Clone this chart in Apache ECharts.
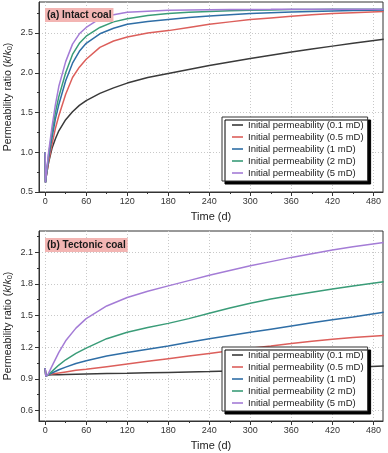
<!DOCTYPE html>
<html>
<head>
<meta charset="utf-8">
<script src="https://cdn.jsdelivr.net/npm/echarts@6/dist/echarts.min.js"></script>
<style>html,body{margin:0;padding:0;background:#fff}#c{width:388px;height:453px}</style>
</head>
<body>
<div id="c"></div>
<script>
// ---- data ----
const seriesNames = ['Initial permeability (0.1 mD)','Initial permeability (0.5 mD)','Initial permeability (1 mD)','Initial permeability (2 mD)','Initial permeability (5 mD)'];
const timeA = [0,0.5,2,5,10,15,20,30,40,50,60,80,100,120,150,180,210,240,270,300,330,360,390,420,450,495];
const intact01 = [1.0,0.62,0.72,0.87,1.05,1.17,1.27,1.41,1.51,1.59,1.65,1.74,1.81,1.87,1.94,1.99,2.04,2.09,2.135,2.18,2.22,2.26,2.30,2.335,2.37,2.42];
const intact05 = [1.0,0.62,0.72,0.88,1.10,1.30,1.46,1.73,1.94,2.07,2.17,2.32,2.40,2.45,2.50,2.53,2.57,2.61,2.64,2.67,2.69,2.71,2.73,2.745,2.755,2.77];
const intact1  = [1.0,0.62,0.73,0.93,1.18,1.42,1.60,1.90,2.12,2.27,2.37,2.49,2.56,2.61,2.645,2.67,2.695,2.715,2.73,2.745,2.755,2.765,2.772,2.778,2.783,2.79];
const intact2  = [1.0,0.62,0.74,0.97,1.25,1.50,1.70,2.00,2.23,2.37,2.46,2.57,2.64,2.68,2.72,2.745,2.76,2.77,2.78,2.785,2.79,2.795,2.795,2.80,2.80,2.80];
const intact5  = [1.0,0.62,0.75,1.00,1.32,1.60,1.83,2.14,2.36,2.49,2.57,2.68,2.73,2.76,2.775,2.785,2.79,2.793,2.795,2.797,2.798,2.80,2.80,2.80,2.80,2.80];

const timeB = [0,1,4,10,20,30,45,60,90,120,150,180,210,240,270,300,330,360,390,420,450,495];
const tect01 = [1.0,0.925,0.935,0.937,0.939,0.941,0.943,0.945,0.949,0.952,0.956,0.96,0.964,0.968,0.973,0.978,0.983,0.989,0.995,1.002,1.009,1.02];
const tect05 = [1.0,0.925,0.935,0.945,0.955,0.965,0.98,0.99,1.015,1.04,1.065,1.09,1.115,1.14,1.165,1.19,1.21,1.235,1.255,1.275,1.29,1.31];
const tect1  = [1.0,0.925,0.935,0.955,0.985,1.01,1.045,1.07,1.115,1.15,1.18,1.21,1.245,1.28,1.31,1.34,1.37,1.40,1.43,1.46,1.485,1.53];
const tect2  = [1.0,0.925,0.935,0.97,1.03,1.08,1.14,1.19,1.28,1.34,1.385,1.425,1.47,1.52,1.57,1.615,1.655,1.69,1.72,1.75,1.78,1.82];
const tect5  = [1.0,0.925,0.94,1.02,1.15,1.26,1.38,1.47,1.59,1.67,1.73,1.78,1.83,1.88,1.925,1.97,2.01,2.05,2.085,2.12,2.15,2.19];

const xTicks = [0,60,120,180,240,300,360,420,480];
const xMinor = [30,90,150,210,270,330,390,450];
const yTicksA = [0.5,1.0,1.5,2.0,2.5];
const yMinorA = [0.75,1.25,1.75,2.25,2.75];
const yTicksB = [0.6,0.9,1.2,1.5,1.8,2.1];
const yMinorB = [0.75,1.05,1.35,1.65,1.95,2.25];
const panelTitles = ['(a) Intact coal','(b) Tectonic coal'];

// ---- styling ----
const colors = ['#3a3a3a','#dc5f5b','#2f6ea6','#3a9c78','#a47cd6'];
const FONT = 'Liberation Sans, Arial, sans-serif';
const axisColor = '#333';

function xAxes(grid){
  const base = {type:'value', gridIndex:grid, min:-9, max:494, position:'bottom'};
  return [
    Object.assign({}, base, {
      name:'Time (d)', nameLocation:'middle', nameGap:19, nameMoveOverlap:false,
      nameTextStyle:{fontSize:11, color:'#222', fontFamily:FONT},
      axisLine:{onZero:false, lineStyle:{color:axisColor, width:1}},
      axisTick:{show:true, inside:false, length:4, customValues:xTicks, lineStyle:{color:axisColor}},
      axisLabel:{customValues:xTicks, fontSize:9, color:'#333', margin:5, fontFamily:FONT},
      splitLine:{show:true, lineStyle:{color:'#c8c8c8', type:[1,2], width:1}}
    }),
    Object.assign({}, base, {
      axisLine:{show:false, onZero:false},
      axisTick:{show:true, inside:false, length:2, customValues:xMinor, lineStyle:{color:axisColor}},
      axisLabel:{show:false},
      splitLine:{show:false}
    })
  ];
}
function yAxes(grid, min, max, ticks, minor){
  const base = {type:'value', gridIndex:grid, min:min, max:max, position:'left'};
  return [
    Object.assign({}, base, {
      name:'Permeability ratio ({i|k}/{i|k}{s|0})', nameLocation:'middle', nameGap:25, nameMoveOverlap:false,
      nameTextStyle:{fontSize:10.5, color:'#222', fontFamily:FONT,
        rich:{i:{fontStyle:'italic', fontSize:10.5, fontFamily:FONT, color:'#222'},
              s:{fontSize:7.5, fontFamily:FONT, color:'#222', verticalAlign:'bottom', padding:[4,0,0,0]}}},
      axisLine:{onZero:false, lineStyle:{color:axisColor, width:1}},
      axisTick:{show:true, inside:false, length:4, customValues:ticks, lineStyle:{color:axisColor}},
      axisLabel:{customValues:ticks, fontSize:9, color:'#333', margin:6, fontFamily:FONT,
        formatter:v=>v.toFixed(1)},
      splitLine:{show:true, lineStyle:{color:'#c8c8c8', type:[1,2], width:1}}
    }),
    Object.assign({}, base, {
      axisLine:{show:false, onZero:false},
      axisTick:{show:true, inside:false, length:2, customValues:minor, lineStyle:{color:axisColor}},
      axisLabel:{show:false},
      splitLine:{show:false}
    })
  ];
}

function mk(t, vals){ return t.map((x,i)=>[x, vals[i]]); }
const topVals = [intact01, intact05, intact1, intact2, intact5];
const botVals = [tect01, tect05, tect1, tect2, tect5];

const series = [];
topVals.forEach((v,i)=>series.push({type:'line', name:seriesNames[i], xAxisIndex:0, yAxisIndex:0,
  data:mk(timeA,v), symbol:'none', showSymbol:false, lineStyle:{width:1.5, color:colors[i]}, itemStyle:{color:colors[i]}, z:2}));
botVals.forEach((v,i)=>series.push({type:'line', name:seriesNames[i], xAxisIndex:2, yAxisIndex:2,
  data:mk(timeB,v), symbol:'none', showSymbol:false, lineStyle:{width:1.5, color:colors[i]}, itemStyle:{color:colors[i]}, z:2}));

function legend(top){
  return {orient:'vertical', left:222, top:top, data:seriesNames, z:12,
    icon:'path://M0,0H11V1.6H0Z',
    itemWidth:11, itemHeight:12, itemGap:0, padding:[2,4,2,10],
    backgroundColor:'#fff', borderColor:'#333', borderWidth:1,
    shadowColor:'#000', shadowBlur:0, shadowOffsetX:3, shadowOffsetY:3,
    textStyle:{fontSize:9.5, color:'#222', fontFamily:FONT, lineHeight:12},
    selectedMode:false};
}
function title(text, top){
  return {text:text, left:45, top:top, padding:[1,2,1,2], backgroundColor:'#f3b5b3', z:12,
    textStyle:{fontSize:10, fontWeight:'bold', color:'#1a1a1a', fontFamily:FONT, lineHeight:12}};
}

const option = {
  animation:false,
  backgroundColor:'#fff',
  color:colors,
  title:[title(panelTitles[0],8), title(panelTitles[1],238)],
  legend:[legend(117), legend(347)],
  grid:[
    {left:39, right:5, top:2, height:190, show:true, borderColor:'#333', borderWidth:1, backgroundColor:'transparent', outerBoundsMode:'none', containLabel:false},
    {left:39, right:5, top:231, height:190, show:true, borderColor:'#333', borderWidth:1, backgroundColor:'transparent', outerBoundsMode:'none', containLabel:false}
  ],
  xAxis:[...xAxes(0), ...xAxes(1)],
  yAxis:[...yAxes(0,0.5,2.89,yTicksA,yMinorA), ...yAxes(1,0.5,2.3,yTicksB,yMinorB)],
  series:series
};
const chart = echarts.init(document.getElementById('c'), null, {renderer:'canvas'});
chart.setOption(option);
</script>
</body>
</html>
